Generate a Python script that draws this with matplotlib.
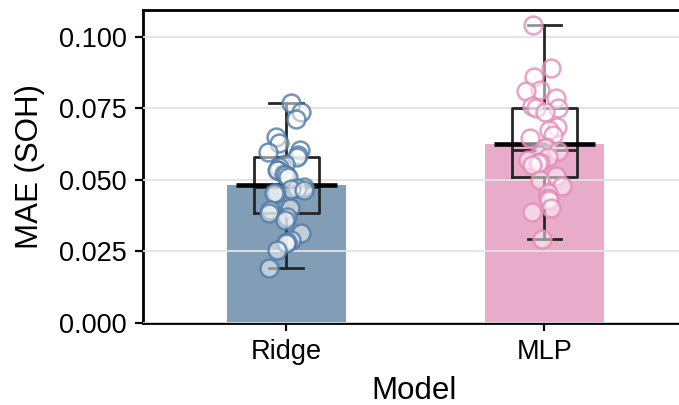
import numpy as np
import matplotlib
matplotlib.use("Agg")
import matplotlib.pyplot as plt

plt.rcParams['font.family'] = ['Liberation Sans', 'DejaVu Sans']

# Per-fold MAE values for each model
models = ["Ridge", "MLP"]
ridge_mae = [0.0768, 0.0739, 0.0712, 0.0651, 0.0628, 0.0605, 0.0599, 0.0587,
             0.0581, 0.0555, 0.0545, 0.0535, 0.0535, 0.0520, 0.0517, 0.0512,
             0.0477, 0.0472, 0.0470, 0.0466, 0.0453, 0.0453, 0.0401, 0.0395,
             0.0384, 0.0372, 0.0360, 0.0314, 0.0290, 0.0284, 0.0280, 0.0255,
             0.0191]
mlp_mae = [0.1042, 0.0891, 0.0861, 0.0815, 0.0811, 0.0786, 0.0760, 0.0751,
           0.0751, 0.0739, 0.0686, 0.0675, 0.0657, 0.0648, 0.0616, 0.0610,
           0.0600, 0.0587, 0.0580, 0.0570, 0.0564, 0.0558, 0.0552, 0.0515,
           0.0500, 0.0480, 0.0453, 0.0436, 0.0430, 0.0401, 0.0389, 0.0295]
y_ticks = [0.000, 0.025, 0.050, 0.075, 0.100]

series = [np.array(ridge_mae), np.array(mlp_mae)]
bar_colors = ["#829db6", "#e8abc9"]
edge_colors = ["#4f7aa6", "#e48cb8"]

fig = plt.figure(figsize=(6.79, 4.05), dpi=100)
ax = fig.add_axes([143 / 679, 1 - 323 / 405, 542 / 679, 313 / 405])

pos = np.arange(len(models))
means = [s.mean() for s in series]

# mean bars
ax.bar(pos, means, width=0.46, color=bar_colors, zorder=1)

# box-and-whisker summary
ax.boxplot(series, positions=pos, widths=0.25, showfliers=False,
           patch_artist=False, manage_ticks=False,
           boxprops=dict(color="#262626", linewidth=2.0),
           whiskerprops=dict(color="#262626", linewidth=2.0),
           capprops=dict(color="#262626", linewidth=2.0),
           medianprops=dict(color="#262626", linewidth=2.0),
           capwidths=0.13, zorder=3)

# thick mean marker
for p, m in zip(pos, means):
    ax.hlines(m, p - 0.195, p + 0.195, color="black", linewidth=3.3, zorder=3.5)

# jittered individual folds
rng = np.random.default_rng(7)
for p, s, ec in zip(pos, series, edge_colors):
    x = p + rng.uniform(-0.07, 0.07, size=len(s))
    ax.scatter(x, s, s=165, facecolors=(1, 1, 1, 0.5),
               edgecolors=matplotlib.colors.to_rgba(ec, 0.8),
               linewidths=1.8, zorder=4)

ax.set_xlim(-0.555, 1.545)
ax.set_ylim(0, 0.1094)
ax.set_xticks(pos)
ax.set_xticklabels(models)
ax.set_yticks(y_ticks)
ax.set_yticklabels([f"{t:.3f}" for t in y_ticks])

ax.set_axisbelow(False)
ax.yaxis.grid(True, color="#e3e3e3", linewidth=1.3)
ax.xaxis.grid(False)

ax.spines["right"].set_visible(False)
for side in ["left", "bottom", "top"]:
    ax.spines[side].set_linewidth(2.0)
    ax.spines[side].set_color("black")

ax.tick_params(axis="both", labelsize=19.5, length=5.5, width=1.6,
               color="black", pad=6)
ax.set_xlabel("Model", fontsize=22.5, labelpad=8)
ax.set_ylabel("MAE (SOH)", fontsize=22.5, labelpad=10)

fig.savefig("out.png", dpi=100)
